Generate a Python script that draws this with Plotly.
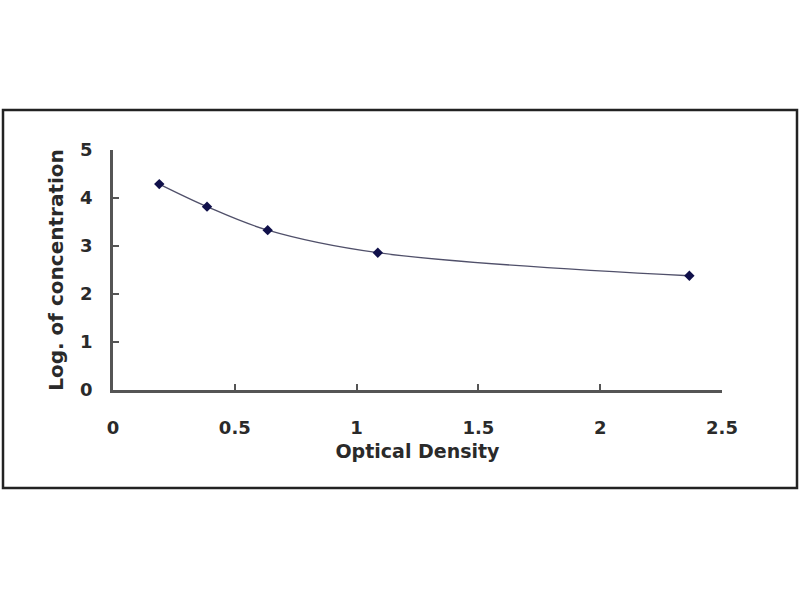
import plotly.graph_objects as go

optical_density = [0.19, 0.386, 0.635, 1.087, 2.366]
log_concentration = [4.29, 3.82, 3.33, 2.86, 2.38]
x_ticks = [0, 0.5, 1, 1.5, 2, 2.5]
x_tick_labels = ["0", "0.5", "1", "1.5", "2", "2.5"]
y_ticks = [0, 1, 2, 3, 4, 5]

fig = go.Figure()
fig.add_trace(go.Scatter(
    x=optical_density, y=log_concentration,
    mode="lines+markers",
    line=dict(shape="spline", smoothing=1.0, color="#50506a", width=1.3),
    marker=dict(symbol="diamond", size=8, color="#10104a"),
    showlegend=False,
))

L, R, T, B = 113, 78, 150, 210
pw = 800 - L - R
ph = 600 - T - B

font_family = "DejaVu Sans, sans-serif"
fig.update_layout(
    width=800, height=600,
    margin=dict(l=L, r=R, t=T, b=B, pad=0),
    paper_bgcolor="white", plot_bgcolor="white",
    font=dict(family=font_family, color="#2a2a2a"),
    xaxis=dict(
        range=[0, 2.5], tickvals=x_ticks, ticktext=x_tick_labels,
        showgrid=False, zeroline=False,
        showline=True, linecolor="#555555", linewidth=2.5,
        ticks="inside", ticklen=6, tickcolor="#555555", tickwidth=2,
        tickfont=dict(size=18, family=font_family, color="#2a2a2a", weight="bold"),
        ticklabelstandoff=20,
        title=dict(text="<b>Optical Density</b>", font=dict(size=19, color="#2a2a2a"), standoff=8),
    ),
    yaxis=dict(
        range=[0, 5], tickvals=y_ticks,
        showgrid=False, zeroline=False,
        showline=True, linecolor="#555555", linewidth=2.5,
        ticks="inside", ticklen=6, tickcolor="#555555", tickwidth=2,
        tickfont=dict(size=18, family=font_family, color="#2a2a2a", weight="bold"),
        ticklabelstandoff=14,
        title=dict(text="<b>Log. of concentration</b>", font=dict(size=20, color="#2a2a2a"), standoff=12),
    ),
    shapes=[dict(
        type="rect", xref="paper", yref="paper",
        x0=(3 - L) / pw, x1=(797 - L) / pw,
        y0=(T + ph - 488) / ph, y1=(T + ph - 110) / ph,
        line=dict(color="#222222", width=2.5), fillcolor="rgba(0,0,0,0)", layer="below",
    )],
)

fig.write_html("out.html", config={"displayModeBar": False},
               post_script="document.body.style.margin='0';")
